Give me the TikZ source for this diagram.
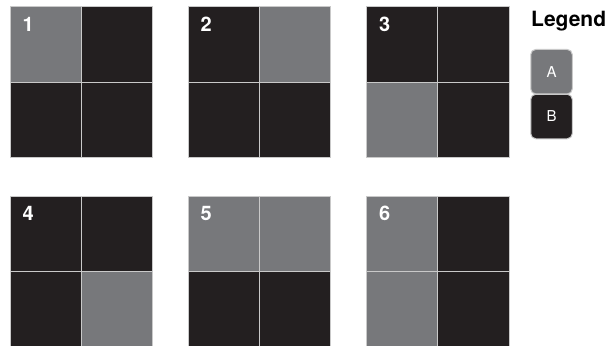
\documentclass[tikz,border=0pt]{standalone}
\usepackage{fontspec}
\setmainfont{TeX Gyre Heros}
\definecolor{gA}{HTML}{77787B}
\definecolor{gB}{HTML}{231F20}
\definecolor{gLine}{HTML}{C9C9C9}
\tikzset{
  cellA/.style={fill=gA, draw=gLine, line width=1pt},
  cellB/.style={fill=gB, draw=gLine, line width=1pt},
  numlabel/.style={anchor=base west, text=white, font=\fontsize{20}{20}\selectfont\bfseries, inner sep=0pt},
  legtitle/.style={anchor=base west, font=\fontsize{21}{21}\selectfont\bfseries, inner sep=0pt},
  legbox/.style={draw=gLine, line width=1pt, rounded corners=5pt, minimum width=41.5pt, minimum height=44.5pt, inner sep=0pt, text=white, font=\fontsize{15}{15}\selectfont}
}
\begin{document}
\begin{tikzpicture}[x=1pt,y=-1pt]
\useasboundingbox (0,0) rectangle (609,345);
\clip (0,0) rectangle (609,345);
\fill[white] (0,0) rectangle (609,345);
% grid: #1 = number, #2 left x, #3 top y, #4..#7 styles TL TR BL BR
\foreach \n/\gx/\gy/\tl/\tr/\bl/\br in {
  1/10/7/cellA/cellB/cellB/cellB,
  2/188/7/cellB/cellA/cellB/cellB,
  3/366.5/7/cellB/cellB/cellA/cellB,
  4/10/196/cellB/cellB/cellB/cellA,
  5/188/196/cellA/cellA/cellB/cellB,
  6/366.5/196/cellA/cellB/cellA/cellB}{
  \draw[\tl] (\gx,\gy) rectangle ++(71.25,75);
  \draw[\tr] (\gx+71.25,\gy) rectangle ++(71.25,75);
  \draw[\bl] (\gx,\gy+75) rectangle ++(71.25,75);
  \draw[\br] (\gx+71.25,\gy+75) rectangle ++(71.25,75);
  \node[numlabel] (num\n) at (\gx+12.5,\gy+24.5) {\n};
}
\node[legtitle] (legend) at (531,26.7) {Legend};
\node[legbox, fill=gA] (legA) at (551.5,71.7) {A};
\node[legbox, fill=gB] (legB) at (551.5,116.5) {B};
\end{tikzpicture}
\end{document}
